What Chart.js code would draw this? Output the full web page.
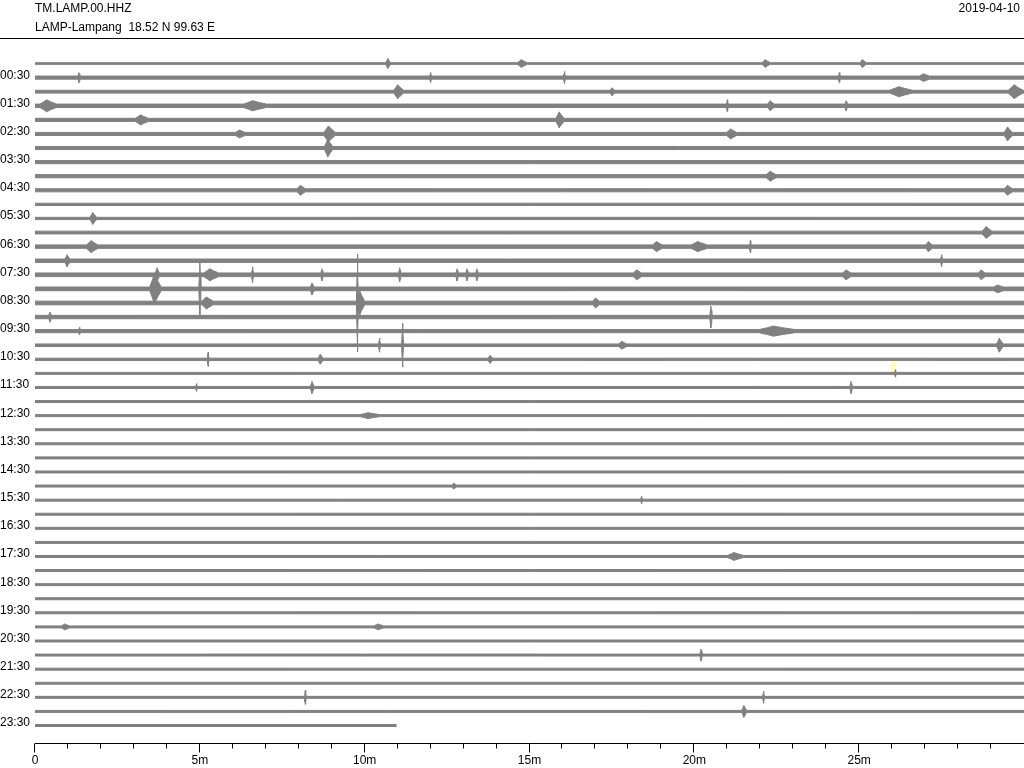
<!DOCTYPE html>
<html>
<head>
<meta charset="utf-8">
<title>TM.LAMP.00.HHZ 2019-04-10</title>
<script src="https://cdn.jsdelivr.net/npm/chart.js@4.4.1/dist/chart.umd.min.js"></script>
<style>
  html, body { margin: 0; padding: 0; background: #fff; }
  canvas { display: block; }
</style>
</head>
<body>
<canvas id="heli" width="1024" height="768"></canvas>
<script>
/* Helicorder: 48 half-hour lines of LAMP vertical channel.
   Each line is drawn as an amplitude envelope (units: one line spacing). */

var station = 'TM.LAMP.00.HHZ';
var siteLabel = 'LAMP-Lampang  18.52 N 99.63 E';
var dayLabel = '2019-04-10';

var lineLabels = ['00:30', '01:30', '02:30', '03:30', '04:30', '05:30', '06:30', '07:30',
  '08:30', '09:30', '10:30', '11:30', '12:30', '13:30', '14:30', '15:30', '16:30', '17:30',
  '18:30', '19:30', '20:30', '21:30', '22:30', '23:30'];
var minuteTicks = [0, 5, 10, 15, 20, 25];

// background noise half-amplitude for each line (00:00 ... 23:30)
var noiseAmp = [0.06, 0.11, 0.10, 0.12, 0.11, 0.11, 0.11, 0.11, 0.11, 0.11, 0.08, 0.08,
  0.10, 0.12, 0.12, 0.13, 0.13, 0.13, 0.12, 0.11, 0.09, 0.08, 0.07, 0.07,
  0.07, 0.07, 0.07, 0.07, 0.07, 0.07, 0.07, 0.07, 0.07, 0.07, 0.07, 0.07,
  0.07, 0.07, 0.07, 0.07, 0.07, 0.07, 0.07, 0.07, 0.07, 0.07, 0.07, 0.07];

// minutes of data on each line (last line stops early)
var lineLength = [30, 30, 30, 30, 30, 30, 30, 30, 30, 30, 30, 30, 30, 30, 30, 30,
  30, 30, 30, 30, 30, 30, 30, 30, 30, 30, 30, 30, 30, 30, 30, 30,
  30, 30, 30, 30, 30, 30, 30, 30, 30, 30, 30, 30, 30, 30, 30, 10.97];

// arrivals: [line, minute of peak, peak amplitude, length in minutes]
var arrivals = [
  [0, 10.7, 0.36, 0.15], [0, 14.75, 0.28, 0.3], [0, 22.15, 0.28, 0.25], [0, 25.1, 0.28, 0.2],
  [1, 1.33, 0.36, 0.1], [1, 12.0, 0.36, 0.1], [1, 16.06, 0.43, 0.1], [1, 24.4, 0.36, 0.1], [1, 26.95, 0.28, 0.3],
  [2, 11.0, 0.50, 0.3], [2, 17.5, 0.28, 0.15], [2, 26.2, 0.36, 0.7], [2, 29.7, 0.50, 0.45],
  [3, 0.35, 0.43, 0.5], [3, 6.6, 0.36, 0.7], [3, 21.0, 0.43, 0.1], [3, 22.3, 0.36, 0.2], [3, 24.6, 0.36, 0.1],
  [4, 3.2, 0.36, 0.4], [4, 15.9, 0.57, 0.25],
  [5, 6.2, 0.28, 0.3], [5, 8.9, 0.57, 0.35], [5, 21.1, 0.36, 0.3], [5, 29.5, 0.50, 0.25],
  [6, 8.88, 0.64, 0.25],
  [8, 22.3, 0.36, 0.3],
  [9, 8.05, 0.36, 0.25], [9, 29.5, 0.36, 0.25],
  [11, 1.75, 0.43, 0.2],
  [12, 28.85, 0.43, 0.3],
  [13, 1.7, 0.43, 0.35], [13, 18.85, 0.36, 0.3], [13, 20.1, 0.36, 0.5], [13, 21.7, 0.43, 0.1], [13, 27.1, 0.36, 0.2],
  [14, 0.97, 0.43, 0.15], [14, 27.5, 0.43, 0.1],
  [15, 3.7, 0.50, 0.12], [15, 5.3, 0.43, 0.45], [15, 6.6, 0.57, 0.1], [15, 8.7, 0.43, 0.1],
  [15, 11.06, 0.50, 0.1], [15, 12.8, 0.43, 0.08], [15, 13.1, 0.43, 0.08], [15, 13.4, 0.43, 0.08],
  [15, 18.25, 0.36, 0.25], [15, 24.6, 0.36, 0.25], [15, 28.7, 0.36, 0.2],
  [16, 3.62, 1.06, 0.35], [16, 5.0, 1.85, 0.1], [16, 8.4, 0.43, 0.12], [16, 29.2, 0.28, 0.3],
  [17, 5.2, 0.43, 0.35], [17, 9.78, 3.48, 0.06], [17, 9.85, 0.85, 0.25], [17, 17.0, 0.36, 0.2],
  [18, 0.45, 0.36, 0.1], [18, 20.5, 0.78, 0.08],
  [19, 1.35, 0.28, 0.1], [19, 22.4, 0.36, 1.1],
  [20, 10.45, 0.50, 0.1], [20, 11.15, 1.56, 0.05], [20, 17.8, 0.28, 0.25], [20, 29.25, 0.50, 0.2],
  [21, 5.25, 0.50, 0.1], [21, 8.65, 0.36, 0.15], [21, 13.8, 0.28, 0.15],
  [22, 26.1, 0.28, 0.05],
  [23, 4.9, 0.28, 0.1], [23, 8.4, 0.43, 0.12], [23, 24.75, 0.43, 0.05],
  [25, 10.1, 0.21, 0.6],
  [30, 12.7, 0.21, 0.15],
  [31, 18.4, 0.28, 0.05],
  [35, 21.2, 0.28, 0.5],
  [40, 0.9, 0.21, 0.25], [40, 10.4, 0.21, 0.3],
  [42, 20.2, 0.43, 0.05],
  [45, 8.2, 0.50, 0.05], [45, 22.1, 0.43, 0.05],
  [46, 21.5, 0.43, 0.15]
];

// picked window highlighted on the 11:00 line
var pickLine = 22, pickStart = 25.97, pickEnd = 26.12;

var TRACE = '#808080';
var FONT = "12px 'Liberation Sans', Arial, sans-serif";

/* ---------- envelope table for one line ----------
   each arrival is a spindle: onset, peak, half-height coda, back to noise */
function arrivalShape(a, base) {
  var m = a[1], amp = a[2], len = a[3];
  var rise = len <= 0.1 ? 0.03 : len * 0.4;
  var fall = len <= 0.1 ? 0.03 : len * 0.6;
  return [
    [m - rise, base],
    [m - rise * 0.4, base + (amp - base) * 0.55],
    [m, amp],
    [m + fall * 0.4, base + (amp - base) * 0.55],
    [m + fall, base]
  ];
}

function shapeAt(pts, x) {
  if (x <= pts[0][0] || x >= pts[pts.length - 1][0]) return pts[0][1];
  for (var i = 1; i < pts.length; i++) {
    if (x <= pts[i][0]) {
      var t = (x - pts[i - 1][0]) / (pts[i][0] - pts[i - 1][0]);
      return pts[i - 1][1] + t * (pts[i][1] - pts[i - 1][1]);
    }
  }
  return pts[0][1];
}

function envelope(line) {
  var base = noiseAmp[line];
  var end = lineLength[line];
  var shapes = arrivals.filter(function (a) { return a[0] === line; })
    .map(function (a) { return arrivalShape(a, base); });
  var xs = [0, end];
  shapes.forEach(function (s) { s.forEach(function (p) { xs.push(p[0]); }); });
  xs = xs.filter(function (x) { return x >= 0 && x <= end; })
    .sort(function (a, b) { return a - b; })
    .filter(function (x, i, arr) { return i === 0 || x !== arr[i - 1]; });
  return xs.map(function (x) {
    var v = base;
    shapes.forEach(function (s) { v = Math.max(v, shapeAt(s, x)); });
    return { x: x, a: v };
  });
}

var datasets = [];
noiseAmp.forEach(function (b, line) {
  var env = envelope(line);
  datasets.push({
    data: env.map(function (p) { return { x: p.x, y: line - p.a }; }),
    borderColor: TRACE, borderWidth: 1, fill: false
  });
  datasets.push({
    data: env.map(function (p) { return { x: p.x, y: line + p.a }; }),
    borderColor: TRACE, borderWidth: 1, backgroundColor: TRACE, fill: '-1'
  });
});

/* ---------- frame: header, hour labels, minute axis ---------- */
var frame = {
  id: 'heliFrame',
  beforeDatasetsDraw: function (chart) {
    var ctx = chart.ctx, x = chart.scales.x, y = chart.scales.y;
    ctx.save();
    ctx.fillStyle = '#ffffb0';
    var x0 = x.getPixelForValue(pickStart), x1 = x.getPixelForValue(pickEnd);
    var y0 = y.getPixelForValue(pickLine - 0.84), y1 = y.getPixelForValue(pickLine + 0.16);
    ctx.fillRect(x0, y0, x1 - x0, y1 - y0);
    ctx.restore();
  },
  afterDraw: function (chart) {
    var ctx = chart.ctx, x = chart.scales.x, y = chart.scales.y;
    var W = chart.width;
    ctx.save();
    ctx.font = FONT;
    ctx.fillStyle = '#000';
    ctx.textBaseline = 'alphabetic';
    ctx.textAlign = 'left';
    ctx.fillText(station, 35, 12);
    ctx.fillText(siteLabel, 35, 31);
    ctx.textAlign = 'right';
    ctx.fillText(dayLabel, W - 4, 12);

    ctx.strokeStyle = '#000';
    ctx.lineWidth = 1;
    ctx.beginPath();
    ctx.moveTo(0, 38.5);
    ctx.lineTo(W, 38.5);
    ctx.stroke();

    // hour labels sit on every second line
    ctx.textAlign = 'left';
    lineLabels.forEach(function (lab, i) {
      ctx.fillText(lab, 0, Math.round(y.getPixelForValue(2 * i + 1)) + 1);
    });

    // minute axis
    var axisY = 743.5;
    ctx.beginPath();
    ctx.moveTo(x.getPixelForValue(0), axisY);
    ctx.lineTo(W, axisY);
    for (var m = 0; m < 30; m++) {
      var px = Math.round(x.getPixelForValue(m)) - 0.5;
      ctx.moveTo(px, axisY);
      ctx.lineTo(px, axisY + (m % 5 === 0 ? 9 : 5));
    }
    ctx.stroke();
    ctx.textAlign = 'center';
    ctx.textBaseline = 'middle';
    minuteTicks.forEach(function (m) {
      ctx.fillText(m === 0 ? '0' : m + 'm', x.getPixelForValue(m), 761);
    });
    ctx.restore();
  }
};

new Chart(document.getElementById('heli'), {
  type: 'line',
  data: { datasets: datasets },
  options: {
    responsive: false,
    animation: false,
    events: [],
    layout: { padding: { left: 35, right: 0, top: 42.4, bottom: 24.9 } },
    elements: { point: { radius: 0 }, line: { tension: 0 } },
    plugins: { legend: { display: false }, tooltip: { enabled: false } },
    scales: {
      x: { type: 'linear', min: 0, max: 30, display: false },
      y: { type: 'linear', min: -1.5, max: 48.25, reverse: true, display: false }
    }
  },
  plugins: [frame]
});
</script>
</body>
</html>
